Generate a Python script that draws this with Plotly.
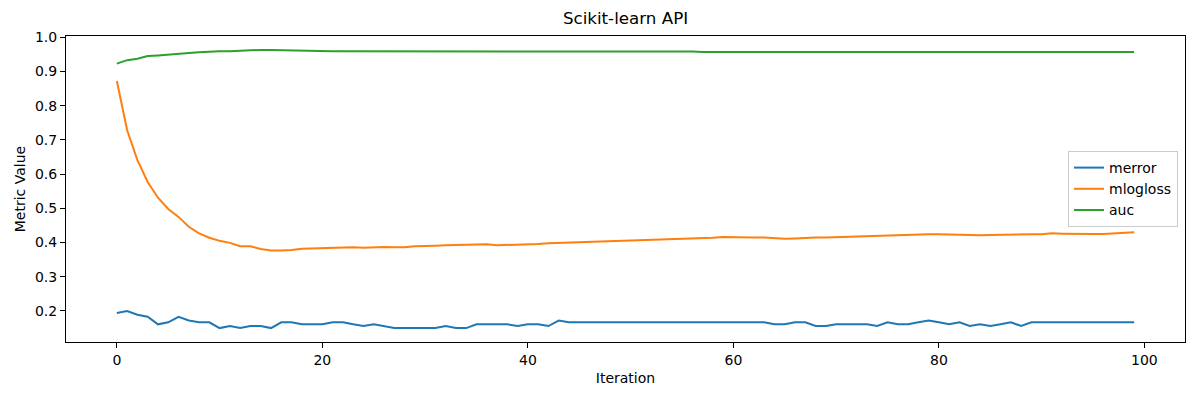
import plotly.graph_objects as go

iterations = list(range(100))

merror = [0.194, 0.200, 0.189, 0.183, 0.161, 0.167, 0.183, 0.172, 0.167, 0.167,
          0.150, 0.156, 0.150, 0.156, 0.156, 0.150, 0.167, 0.167, 0.161, 0.161,
          0.161, 0.167, 0.167, 0.161, 0.156, 0.161, 0.156, 0.150, 0.150, 0.150,
          0.150, 0.150, 0.156, 0.150, 0.150, 0.161, 0.161, 0.161, 0.161, 0.156,
          0.161, 0.161, 0.156, 0.172, 0.167, 0.167, 0.167, 0.167, 0.167, 0.167,
          0.167, 0.167, 0.167, 0.167, 0.167, 0.167, 0.167, 0.167, 0.167, 0.167,
          0.167, 0.167, 0.167, 0.167, 0.161, 0.161, 0.167, 0.167, 0.156, 0.156,
          0.161, 0.161, 0.161, 0.161, 0.156, 0.167, 0.161, 0.161, 0.167, 0.172,
          0.167, 0.161, 0.167, 0.156, 0.161, 0.156, 0.161, 0.167, 0.156, 0.167,
          0.167, 0.167, 0.167, 0.167, 0.167, 0.167, 0.167, 0.167, 0.167, 0.167]

mlogloss = [0.872, 0.728, 0.641, 0.577, 0.531, 0.498, 0.475, 0.446, 0.427, 0.414,
            0.405, 0.399, 0.389, 0.389, 0.381, 0.377, 0.377, 0.378, 0.382, 0.383,
            0.384, 0.385, 0.386, 0.386, 0.385, 0.387, 0.387, 0.386, 0.386, 0.389,
            0.391, 0.391, 0.392, 0.393, 0.393, 0.394, 0.395, 0.392, 0.393, 0.392,
            0.393, 0.396, 0.398, 0.399, 0.400, 0.401, 0.401, 0.403, 0.403, 0.403,
            0.405, 0.406, 0.407, 0.407, 0.408, 0.409, 0.411, 0.412, 0.414, 0.416,
            0.415, 0.415, 0.415, 0.415, 0.413, 0.411, 0.412, 0.414, 0.415, 0.415,
            0.416, 0.417, 0.418, 0.419, 0.420, 0.421, 0.421, 0.422, 0.423, 0.424,
            0.424, 0.423, 0.423, 0.421, 0.421, 0.422, 0.423, 0.424, 0.424, 0.424,
            0.424, 0.427, 0.426, 0.425, 0.426, 0.425, 0.425, 0.426, 0.428, 0.430]

auc = [0.923, 0.933, 0.937, 0.945, 0.947, 0.950, 0.951, 0.954, 0.956, 0.958,
       0.959, 0.959, 0.961, 0.961, 0.963, 0.963, 0.962, 0.961, 0.961, 0.960,
       0.960, 0.959, 0.959, 0.959, 0.960, 0.960, 0.959, 0.960, 0.960, 0.959,
       0.959, 0.960, 0.960, 0.959, 0.959, 0.959, 0.960, 0.960, 0.960, 0.960,
       0.960, 0.959, 0.959, 0.959, 0.959, 0.958, 0.958, 0.958, 0.959, 0.958,
       0.958, 0.958, 0.958, 0.958, 0.958, 0.958, 0.958, 0.957, 0.957, 0.957,
       0.957, 0.957, 0.957, 0.958, 0.958, 0.958, 0.957, 0.957, 0.957, 0.957,
       0.957, 0.957, 0.957, 0.957, 0.957, 0.957, 0.957, 0.957, 0.957, 0.956,
       0.956, 0.956, 0.957, 0.957, 0.957, 0.957, 0.956, 0.956, 0.957, 0.957,
       0.957, 0.957, 0.957, 0.957, 0.957, 0.957, 0.957, 0.957, 0.957, 0.957]

series = [("merror", merror, "#1f77b4"),
          ("mlogloss", mlogloss, "#ff7f0e"),
          ("auc", auc, "#2ca02c")]

x_ticks = [0, 20, 40, 60, 80, 100]
y_ticks = [0.2, 0.3, 0.4, 0.5, 0.6, 0.7, 0.8, 0.9, 1.0]

fig = go.Figure()
for name, vals, color in series:
    fig.add_trace(go.Scatter(x=iterations, y=vals, mode="lines", name=name,
                             line=dict(color=color, width=2)))

# matplotlib-like 5% auto margins
xmin, xmax = min(iterations), max(iterations)
xpad = (xmax - xmin) * 0.05
allv = merror + mlogloss + auc
ymin, ymax = min(allv), max(allv)
ypad = (ymax - ymin) * 0.05

font = "DejaVu Sans"
axis_common = dict(showgrid=False, zeroline=False, showline=True, linecolor="black",
                   linewidth=1, mirror=True, ticks="outside", ticklen=5,
                   tickwidth=1, tickcolor="black",
                   tickfont=dict(family=font, size=14, color="black"))

fig.update_layout(
    width=1200, height=400,
    margin=dict(l=66, r=15, t=36, b=58),
    paper_bgcolor="white", plot_bgcolor="white",
    title=dict(text="Scikit-learn API", x=(66 + 1185) / 2 / 1200, xanchor="center",
               y=1 - 18 / 400, yanchor="middle",
               font=dict(family=font, size=16.7, color="black")),
    xaxis=dict(range=[xmin - xpad, xmax + xpad], tickvals=x_ticks,
               title=dict(text="Iteration", font=dict(family=font, size=14, color="black"),
                          standoff=6),
               **axis_common),
    yaxis=dict(range=[ymin - ypad, ymax + ypad], tickvals=y_ticks, tickformat=".1f",
               title=dict(text="Metric Value", font=dict(family=font, size=14, color="black"),
                          standoff=6),
               **axis_common),
    legend=dict(x=(1178 - 66) / 1119, xanchor="right", y=0.5, yanchor="middle",
                bgcolor="rgba(255,255,255,0.8)", bordercolor="#cccccc", borderwidth=1,
                font=dict(family=font, size=14, color="black"),
                tracegroupgap=0, itemwidth=30),
    showlegend=True,
)

fig.write_html("out.html")
